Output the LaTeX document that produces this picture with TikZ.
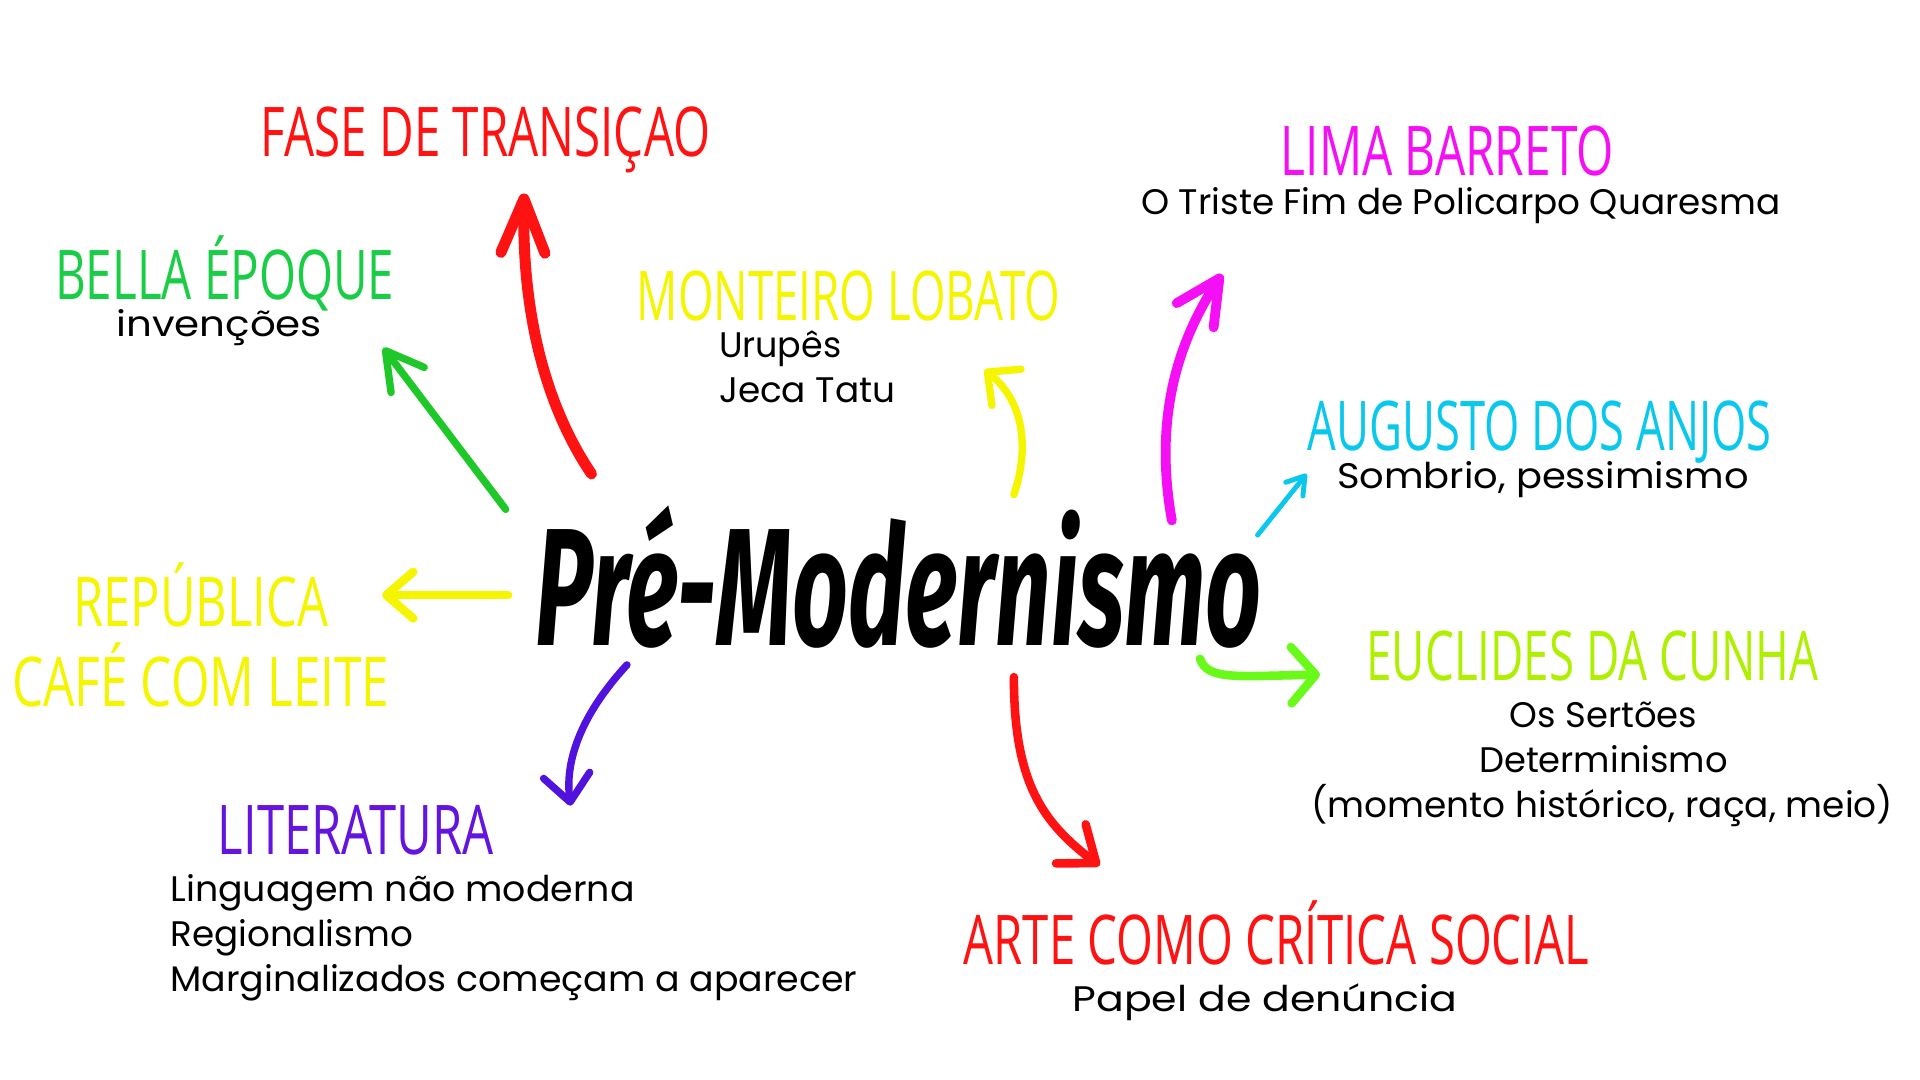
\documentclass[tikz,border=0pt]{standalone}
\usepackage{fontspec}
\usepackage{graphicx}
\usetikzlibrary{arrows.meta}
\newfontfamily\headfont{Open Sans}
\newfontfamily\bodyfont{Poppins}
\newfontfamily\titlefont{Fira Sans}
\newcommand\fitw[2]{\resizebox{#1pt}{\height}{#2}}
\definecolor{cred}{RGB}{255,18,18}
\definecolor{cgreen}{RGB}{25,205,70}
\definecolor{cgreenA}{RGB}{30,200,40}
\definecolor{cyellow}{RGB}{245,245,0}
\definecolor{cmag}{RGB}{245,15,245}
\definecolor{ccyan}{RGB}{10,200,235}
\definecolor{clime}{RGB}{175,240,0}
\definecolor{climeA}{RGB}{105,250,25}
\definecolor{cpurple}{RGB}{100,20,220}
\definecolor{cpurpleA}{RGB}{80,18,220}
\begin{document}
\begin{tikzpicture}[x=1pt,y=-1pt,
  head/.style={inner sep=0pt, anchor=base, font={\headfont\fontsize{56}{60}\selectfont}},
  body/.style={inner sep=0pt, anchor=base, font={\bodyfont\fontsize{29}{34}\selectfont}},
  bodyl/.style={body, anchor=base west},
  brush/.style={line width=#1, line cap=round, line join=round}]
\useasboundingbox[fill=white] (0,0) rectangle (1568,882);

% title
\node[inner sep=0pt, anchor=base west] (title) at (437,527)
  {\resizebox{593pt}{114pt}{\titlefont\bfseries\itshape Pré-Modernismo}};

% headings and texts
\node[head, text=cred] (fase) at (396.5,128) {\fitw{367}{FASE DE TRANSIÇAO}};

\node[head, text=cgreen] (bella) at (183.5,245) {\fitw{277}{BELLA ÉPOQUE}};
\node[body] (inv) at (179,275) {\fitw{168}{invenções}};

\node[head, text=cyellow] (monteiro) at (693,262) {\fitw{346}{MONTEIRO LOBATO}};
\node[bodyl] (urupes) at (587,292) {\fitw{100}{Urupês}};
\node[bodyl] (jeca) at (587,329) {\fitw{144}{Jeca Tatu}};

\node[head, text=cmag] (lima) at (1182,143) {\fitw{272}{LIMA BARRETO}};
\node[body] (triste) at (1193,175) {\fitw{522}{O Triste Fim de Policarpo Quaresma}};

\node[head, text=ccyan] (augusto) at (1257.5,368) {\fitw{379}{AUGUSTO DOS ANJOS}};
\node[body] (sombrio) at (1260,399) {\fitw{336}{Sombrio, pessimismo}};

\node[head, text=clime] (euclides) at (1300.5,556) {\fitw{369}{EUCLIDES DA CUNHA}};
\node[body] (sertoes) at (1309.5,594) {\fitw{153}{Os Sertões}};
\node[body] (determ) at (1309.5,631) {\fitw{203}{Determinismo}};
\node[body] (momento) at (1308.5,668) {\fitw{475}{(momento histórico, raça, meio)}};

\node[head, text=cred] (arte) at (1042.5,788) {\fitw{511}{ARTE COMO CRÍTICA SOCIAL}};
\node[body] (papel) at (1033,826) {\fitw{314}{Papel de denúncia}};

\node[head, text=cpurple] (lit) at (290.5,698) {\fitw{225}{LITERATURA}};
\node[bodyl] (ling) at (139,736) {\fitw{379}{Linguagem não moderna}};
\node[bodyl] (reg) at (139,773) {\fitw{198}{Regionalismo}};
\node[bodyl] (marg) at (139,810) {\fitw{561}{Marginalizados começam a aparecer}};

\node[head, text=cyellow] (rep) at (164,512) {\fitw{208}{REPÚBLICA}};
\node[head, text=cyellow] (cafe) at (164,577) {\fitw{308}{CAFÉ COM LEITE}};

% arrow end points
\coordinate (t1) at (483,387); \coordinate (h1) at (428,158);
\coordinate (t2) at (413,416); \coordinate (h2) at (313,284);
\coordinate (t3) at (415,486); \coordinate (h3) at (312,486);
\coordinate (t4) at (512,543); \coordinate (h4) at (466,658);
\coordinate (t5) at (828,404); \coordinate (h5) at (804,302);
\coordinate (t6) at (957,425); \coordinate (h6) at (998,224);
\coordinate (t7) at (1027,437); \coordinate (h7) at (1067,387);
\coordinate (t8) at (980,538); \coordinate (h8) at (1078,551);
\coordinate (t9) at (828,553); \coordinate (h9) at (898,707);

% arrows
\draw[brush=9, cred, -{Straight Barb[length=44pt,width=36pt,round]}]
  (t1) .. controls (448,335) and (426,262) .. (h1);
\draw[brush=6, cgreenA, -{Straight Barb[length=30pt,width=34pt,round]}]
  (t2) -- (h2);
\draw[brush=7, cyellow, -{Straight Barb[length=22pt,width=38pt,round]}]
  (t3) -- (h3);
\draw[brush=6, cpurpleA, -{Straight Barb[length=22pt,width=38pt,round]}]
  (t4) .. controls (476,582) and (461,620) .. (h4);
\draw[brush=6, cyellow, -{Straight Barb[length=20pt,width=38pt,round]}]
  (t5) .. controls (842,362) and (834,326) .. (h5);
\draw[brush=8, cmag, -{Straight Barb[length=36pt,width=36pt,round]}]
  (t6) .. controls (944,352) and (956,288) .. (h6);
\draw[brush=4, ccyan, -{Straight Barb[length=14pt,width=18pt,round]}]
  (t7) -- (h7);
\draw[brush=7, climeA, -{Straight Barb[length=20pt,width=46pt,round]}]
  (t8) .. controls (986,556) and (1012,552) .. (h8);
\draw[brush=7, cred, -{Straight Barb[length=26pt,width=40pt,round]}]
  (t9) .. controls (828,640) and (852,672) .. (h9);
\end{tikzpicture}
\end{document}
